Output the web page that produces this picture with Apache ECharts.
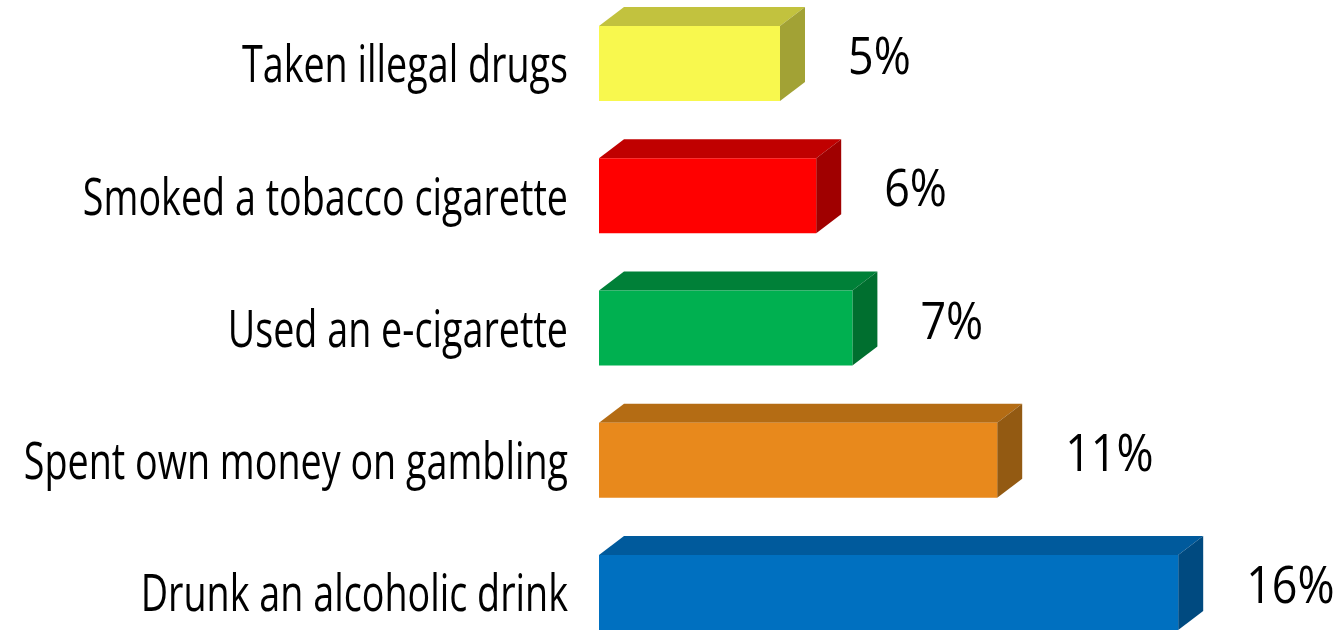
<!DOCTYPE html>
<html>
<head>
<meta charset="utf-8">
<script src="https://cdn.jsdelivr.net/npm/echarts@6/dist/echarts.min.js"></script>
<style>
html,body{margin:0;padding:0;background:#fff;}
#chart{width:1337px;height:632px;}
</style>
</head>
<body>
<div id="chart"></div>
<script>
const categories = ['Taken illegal drugs', 'Smoked a tobacco cigarette', 'Used an e-cigarette', 'Spent own money on gambling', 'Drunk an alcoholic drink'];
const values = [5, 6, 7, 11, 16];
const valueLabels = ['5%', '6%', '7%', '11%', '16%'];
const frontColors = ['#F8F84E', '#FF0000', '#00B050', '#E8891C', '#0070C0'];
const topColors = ['#C2C23E', '#C00000', '#008038', '#B46C14', '#005A9C'];
const sideColors = ['#A2A235', '#A00000', '#006F2F', '#935A12', '#004A80'];

const chart = echarts.init(document.getElementById('chart'), null, {renderer: 'canvas'});

const FRONT_H = 75, DX = 25, DY = 19;

function renderItem(params, api) {
  const idx = api.value(1);
  const val = api.value(0);
  const start = api.coord([0, idx]);
  const end = api.coord([val, idx]);
  const x0 = start[0], x1 = end[0];
  const cy = end[1];
  const y0 = cy - FRONT_H / 2;
  const y1 = y0 + FRONT_H;
  return {
    type: 'group',
    children: [
      {type: 'polygon', shape: {points: [[x0, y0], [x0 + DX, y0 - DY], [x1 + DX, y0 - DY], [x1, y0]]}, style: {fill: topColors[idx]}},
      {type: 'polygon', shape: {points: [[x1, y0], [x1 + DX, y0 - DY], [x1 + DX, y1 - DY], [x1, y1]]}, style: {fill: sideColors[idx]}},
      {type: 'rect', shape: {x: x0, y: y0, width: x1 - x0, height: FRONT_H}, style: {fill: frontColors[idx]}},
      {type: 'text', x: x1 + DX + 43, y: cy - 4, scaleX: 0.88,
        style: {text: valueLabels[idx], fill: '#000', font: '51px "Open Sans"', align: 'left', verticalAlign: 'middle'}},
      {type: 'text', x: x0 - 31, y: cy + 4, scaleX: 0.725,
        style: {text: categories[idx], fill: '#000', font: '52px "Open Sans"', align: 'right', verticalAlign: 'middle'}}
    ]
  };
}

chart.setOption({
  animation: false,
  backgroundColor: '#fff',
  grid: {left: 599, width: 724, top: 63.5, height: 529, containLabel: false},
  xAxis: {type: 'value', min: 0, max: 20, show: false},
  yAxis: {type: 'category', data: categories, inverse: true, boundaryGap: false, axisLine: {show: false}, axisTick: {show: false}, axisLabel: {show: false}, splitLine: {show: false}},
  series: [{
    type: 'custom',
    renderItem: renderItem,
    encode: {x: 0, y: 1},
    data: values.map((v, i) => [v, i]),
    clip: false
  }]
});
</script>
</body>
</html>
